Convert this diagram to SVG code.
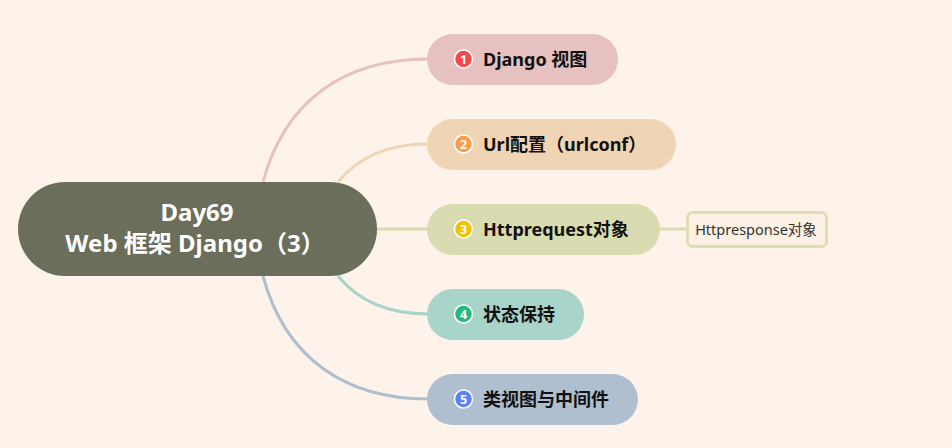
<svg xmlns="http://www.w3.org/2000/svg" width="952" height="448" viewBox="0 0 952 448">
<style>
.lbl{font-family:"Noto Sans","Noto Sans CJK SC",sans-serif;font-weight:700;font-size:18px;fill:#111}
.ctr{font-family:"Noto Sans","Noto Sans CJK SC",sans-serif;font-weight:700;font-size:24px;fill:#fff}
.sub{font-family:"Noto Sans","Noto Sans CJK SC",sans-serif;font-size:14.5px;fill:#333}
.num{font-family:"Noto Sans",sans-serif;font-weight:700;font-size:12.5px;fill:#fff}
.ic{stroke:#fff;stroke-width:1.5}
.ln{fill:none;stroke-width:3}
</style>
<rect width="952" height="448" fill="#fef3ea"/>
<g id="connectors">
<path class="ln" stroke="#e6c1c0" d="M263,182 C285,100 345,59 428,59"/>
<path class="ln" stroke="#f0d5b4" d="M338,182 C360,155 390,144 428,144"/>
<path class="ln" stroke="#d8dcb0" d="M376,229 L428,229"/>
<path class="ln" stroke="#a9d4ca" d="M338,276 C360,303 390,314 428,314"/>
<path class="ln" stroke="#afbfcf" d="M263,276 C285,358 345,399 428,399"/>
<path class="ln" stroke="#d8dcb0" d="M660,229 L686,229"/>
</g>
<g id="center">
<rect x="18" y="182" width="359" height="94" rx="47" fill="#6a6e5a"/>
<text class="ctr" x="197" y="221" text-anchor="middle">Day69</text>
<text class="ctr" x="195" y="252" text-anchor="middle">Web 框架 Django（3）</text>
</g>
<g id="n1">
<rect x="427" y="34" width="191" height="51" rx="25.5" fill="#e6c1c0"/>
<circle class="ic" cx="463.5" cy="59" r="9" fill="#f5484d"/>
<text class="num" x="463.5" y="63.5" text-anchor="middle">1</text>
<text class="lbl" x="483" y="65.5">Django 视图</text>
</g>
<g id="n2">
<rect x="427" y="119" width="249" height="51" rx="25.5" fill="#f0d5b4"/>
<circle class="ic" cx="463.5" cy="144" r="9" fill="#f99d4a"/>
<text class="num" x="463.5" y="148.5" text-anchor="middle">2</text>
<text class="lbl" x="483" y="150.5">Url配置（urlconf）</text>
</g>
<g id="n3">
<rect x="427" y="204" width="233" height="51" rx="25.5" fill="#d8dcb0"/>
<circle class="ic" cx="463.5" cy="229" r="9" fill="#f2c200"/>
<text class="num" x="463.5" y="233.5" text-anchor="middle">3</text>
<text class="lbl" x="483" y="235.5">Httprequest对象</text>
</g>
<g id="n3a">
<rect x="687.5" y="212.5" width="139" height="34" rx="5" fill="#fdf1e6" stroke="#dcdfb4" stroke-width="3"/>
<text class="sub" x="756" y="234.5" text-anchor="middle">Httpresponse对象</text>
</g>
<g id="n4">
<rect x="427" y="289" width="157" height="51" rx="25.5" fill="#a9d4ca"/>
<circle class="ic" cx="463.5" cy="314" r="9" fill="#25bb80"/>
<text class="num" x="463.5" y="318.5" text-anchor="middle">4</text>
<text class="lbl" x="483" y="320.5">状态保持</text>
</g>
<g id="n5">
<rect x="427" y="374" width="211" height="51" rx="25.5" fill="#afbfcf"/>
<circle class="ic" cx="463.5" cy="399" r="9" fill="#5b83f8"/>
<text class="num" x="463.5" y="403.5" text-anchor="middle">5</text>
<text class="lbl" x="483" y="405.5">类视图与中间件</text>
</g>
</svg>
